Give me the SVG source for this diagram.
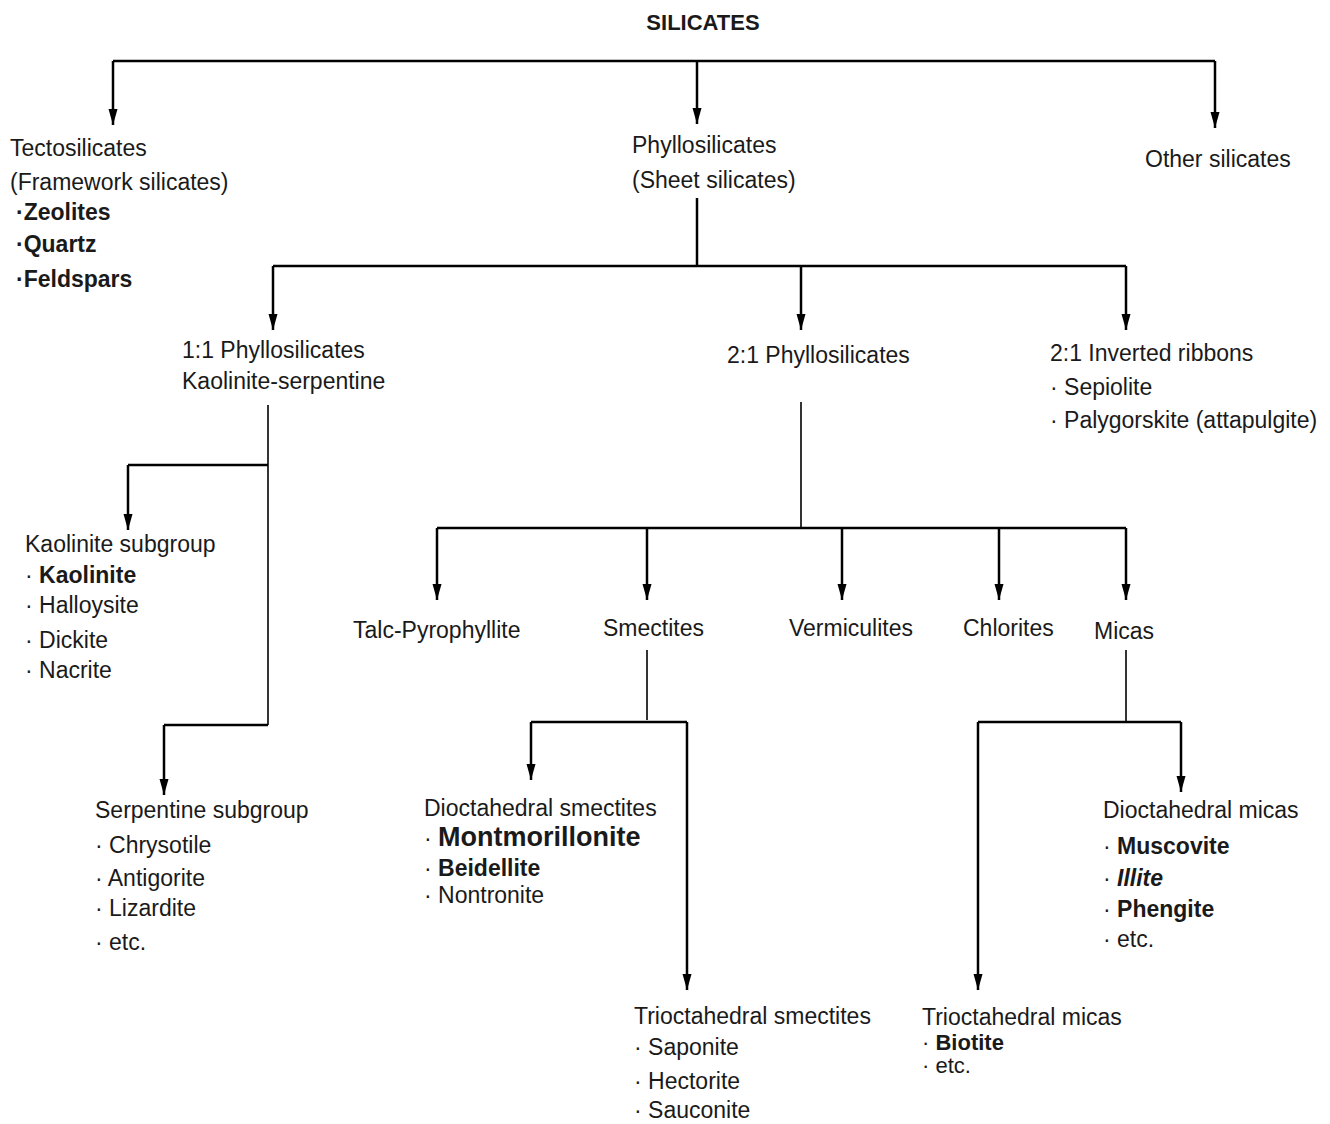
<svg xmlns="http://www.w3.org/2000/svg" width="1330" height="1124" viewBox="0 0 1330 1124">
<style>
text{font-family:"Liberation Sans",Arial,sans-serif;font-size:23px;fill:#1a1a1a}
.b{font-weight:bold}
.t{font-weight:bold;font-size:22px}
.big{font-weight:bold;font-size:27px}
.bi{font-weight:bold;font-style:italic}
.sm{font-size:22px}
.ln{fill:none;stroke:#000;stroke-width:2.5}
.th{stroke-width:1.6}
.ar{marker-end:url(#ah)}
</style>
<defs>
<marker id="ah" markerUnits="userSpaceOnUse" markerWidth="18" markerHeight="12" refX="16" refY="5" orient="auto" viewBox="0 0 18 10">
<path d="M0,0.5 L16,5 L0,9.5 Z" fill="#000"/>
</marker>
</defs>
<rect width="1330" height="1124" fill="#fff"/>
<g id="connectors">
<path class="ln" d="M113,61 H1215"/>
<path class="ln ar" d="M113,61 V125"/>
<path class="ln ar" d="M697,61 V124"/>
<path class="ln ar" d="M1215,61 V128"/>
<path class="ln" d="M697,198 V266"/>
<path class="ln" d="M273,266 H1126"/>
<path class="ln ar" d="M273,266 V330"/>
<path class="ln ar" d="M801,266 V330"/>
<path class="ln ar" d="M1126,266 V330"/>
<path class="ln th" d="M268,405 V725"/>
<path class="ln" d="M268,465 H128"/>
<path class="ln ar" d="M128,465 V530"/>
<path class="ln" d="M268,725 H164"/>
<path class="ln ar" d="M164,725 V795"/>
<path class="ln th" d="M801,402 V528"/>
<path class="ln" d="M437,528 H1126"/>
<path class="ln ar" d="M437,528 V600"/>
<path class="ln ar" d="M647,528 V600"/>
<path class="ln ar" d="M842,528 V600"/>
<path class="ln ar" d="M999,528 V600"/>
<path class="ln ar" d="M1126,528 V600"/>
<path class="ln th" d="M647,650 V720"/>
<path class="ln" d="M531,722 H687"/>
<path class="ln ar" d="M531,722 V780"/>
<path class="ln ar" d="M687,722 V990"/>
<path class="ln th" d="M1126,650 V722"/>
<path class="ln" d="M978,722 H1181"/>
<path class="ln ar" d="M1181,722 V792"/>
<path class="ln ar" d="M978,722 V990"/>
</g>
<g id="silicates"><text class="t" x="703" y="30" text-anchor="middle">SILICATES</text></g>
<g id="tectosilicates">
<text x="10" y="156">Tectosilicates</text>
<text x="10" y="190">(Framework silicates)</text>
<text class="b" x="16" y="220">·Zeolites</text>
<text class="b" x="16" y="252">·Quartz</text>
<text class="b" x="16" y="287">·Feldspars</text>
</g>
<g id="phyllosilicates">
<text x="632" y="153">Phyllosilicates</text>
<text x="632" y="188">(Sheet silicates)</text>
</g>
<g id="other-silicates"><text x="1145" y="167">Other silicates</text></g>
<g id="phyllo-11">
<text x="182" y="358">1:1 Phyllosilicates</text>
<text x="182" y="389">Kaolinite-serpentine</text>
</g>
<g id="phyllo-21"><text x="727" y="363">2:1 Phyllosilicates</text></g>
<g id="inverted-ribbons">
<text x="1050" y="361">2:1 Inverted ribbons</text>
<text x="1050" y="395">· Sepiolite</text>
<text x="1050" y="428">· Palygorskite (attapulgite)</text>
</g>
<g id="kaolinite-subgroup">
<text x="25" y="552">Kaolinite subgroup</text>
<text x="25" y="583">· <tspan class="b">Kaolinite</tspan></text>
<text x="25" y="613">· Halloysite</text>
<text x="25" y="648">· Dickite</text>
<text x="25" y="678">· Nacrite</text>
</g>
<g id="serpentine-subgroup">
<text x="95" y="818">Serpentine subgroup</text>
<text x="95" y="853">· Chrysotile</text>
<text x="95" y="886">· Antigorite</text>
<text x="95" y="916">· Lizardite</text>
<text x="95" y="950">· etc.</text>
</g>
<g id="talc"><text x="353" y="638">Talc-Pyrophyllite</text></g>
<g id="smectites"><text x="603" y="636">Smectites</text></g>
<g id="vermiculites"><text x="789" y="636">Vermiculites</text></g>
<g id="chlorites"><text x="963" y="636">Chlorites</text></g>
<g id="micas"><text x="1094" y="639">Micas</text></g>
<g id="dioctahedral-smectites">
<text x="424" y="816">Dioctahedral smectites</text>
<text x="424" y="846">· <tspan class="big">Montmorillonite</tspan></text>
<text x="424" y="876">· <tspan class="b">Beidellite</tspan></text>
<text x="424" y="903">· Nontronite</text>
</g>
<g id="trioctahedral-smectites">
<text x="634" y="1024">Trioctahedral smectites</text>
<text x="634" y="1055">· Saponite</text>
<text x="634" y="1089">· Hectorite</text>
<text x="634" y="1118">· Sauconite</text>
</g>
<g id="dioctahedral-micas">
<text x="1103" y="818">Dioctahedral micas</text>
<text x="1103" y="854">· <tspan class="b">Muscovite</tspan></text>
<text x="1103" y="886">· <tspan class="bi">Illite</tspan></text>
<text x="1103" y="917">· <tspan class="b">Phengite</tspan></text>
<text x="1103" y="947">· etc.</text>
</g>
<g id="trioctahedral-micas">
<text x="922" y="1025">Trioctahedral micas</text>
<text class="sm" x="922" y="1050">· <tspan class="b">Biotite</tspan></text>
<text class="sm" x="922" y="1073">· etc.</text>
</g>
</svg>
